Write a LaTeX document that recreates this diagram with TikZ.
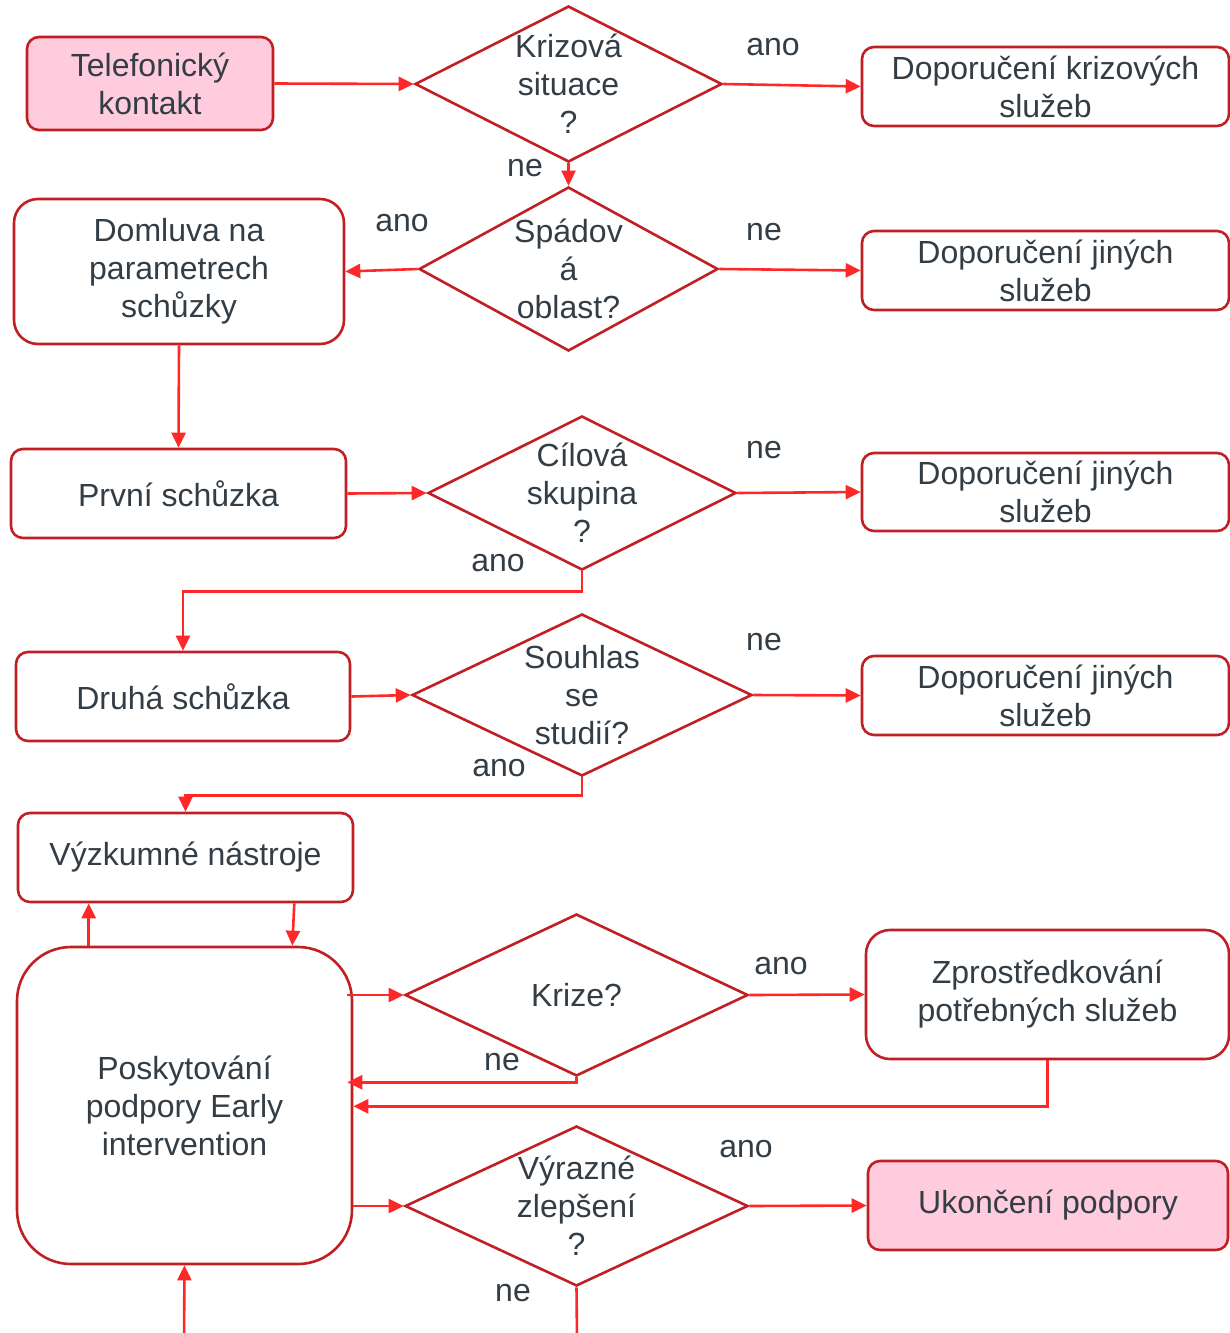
\documentclass[tikz,border=0pt]{standalone}
\usepackage{fontspec}
\setmainfont{Liberation Sans}
\usetikzlibrary{shapes.geometric,arrows.meta,positioning}
\definecolor{frame}{RGB}{192,32,36}
\definecolor{wire}{RGB}{255,40,40}
\definecolor{rose}{RGB}{255,204,221}
\definecolor{ink}{RGB}{51,61,69}
\begin{document}
\begin{tikzpicture}[x=0.5pt,y=-0.5pt,font=\fontsize{16}{19}\selectfont,
  main/.style = {draw=frame, line width=1.3pt, rounded corners=6pt, text=ink, align=center, inner sep=0pt},
  pink/.style = {main, fill=rose},
  choice/.style = {draw=frame, line width=1.3pt, diamond, inner sep=0pt},
  ans/.style = {text=ink, align=center},
  link/.style = {wire, line width=1.3pt, -{Triangle[length=7.5pt,width=7pt]}}]
                  \useasboundingbox (0,0) rectangle (1230,1333);
                  \node[pink, minimum width=123pt, minimum height=46.5pt](tel) at (150,83.5) {Telefonický\\kontakt};
                  \node[choice, minimum width=153.5pt, minimum height=78pt, label={[ans]center:Krizová\\situace\\?}](kriz) at (568.5,84) {};
                  \node[main, minimum width=183.5pt, minimum height=39.5pt](dopkriz) at (1045.5,86.5) {Doporučení krizových\\služeb};
                  \node[choice, minimum width=149.5pt, minimum height=82pt, label={[ans]center:Spádov\\á\\oblast?}](spad) at (568.5,269) {};
                  \node[main, rounded corners=12pt, minimum width=165pt, minimum height=72.5pt](domluva) at (179,271.5) {Domluva na\\parametrech\\schůzky};
                  \node[main, minimum width=183.5pt, minimum height=39.5pt](dopjin1) at (1045.5,270.5) {Doporučení jiných\\služeb};
                  \node[main, minimum width=167.5pt, minimum height=44.5pt](prvni) at (178.5,493.5) {První schůzka};
                  \node[choice, minimum width=154pt, minimum height=77pt, label={[ans]center:Cílová\\skupina\\?}](cil) at (582,493) {};
                  \node[main, minimum width=183.5pt, minimum height=39pt](dopjin2) at (1045.5,492) {Doporučení jiných\\služeb};
                  \node[main, minimum width=167pt, minimum height=44.5pt](druha) at (183,696.5) {Druhá schůzka};
                  \node[choice, minimum width=170pt, minimum height=81pt, label={[ans]center:Souhlas\\se\\studií?}](souhl) at (582,695) {};
                  \node[main, minimum width=183.5pt, minimum height=39.5pt](dopjin3) at (1045.5,695.5) {Doporučení jiných\\služeb};
                  \node[main, minimum width=167.5pt, minimum height=44.5pt](vyzk) at (185.5,857.5) {Výzkumné nástroje};
                  \node[main, rounded corners=27pt, minimum width=167.5pt, minimum height=158.5pt](posk) at (184.5,1105.5) {Poskytování\\podpory Early\\intervention};
                  \node[choice, minimum width=171.5pt, minimum height=81pt, label={[ans]center:Krize?}](krize) at (576.5,995) {};
                  \node[main, rounded corners=12pt, minimum width=181.5pt, minimum height=64.5pt](zprost) at (1047.5,994.5) {Zprostředkování\\potřebných služeb};
                  \node[choice, minimum width=171.5pt, minimum height=80pt, label={[ans]center:Výrazné\\zlepšení\\?}](vyr) at (576.5,1206) {};
                  \node[pink, minimum width=180pt, minimum height=44.5pt](ukon) at (1048,1205.5) {Ukončení podpory};
                  \node[ans](a1) at (773,47) {ano};
                  \node[ans](n1) at (525,168) {ne};
                  \node[ans](a2) at (402,223) {ano};
                  \node[ans](n2) at (764,232) {ne};
                  \node[ans](n3) at (764,450) {ne};
                  \node[ans](a3) at (498,563) {ano};
                  \node[ans](n4) at (764,642) {ne};
                  \node[ans](a4) at (499,768) {ano};
                  \node[ans](a5) at (781,966) {ano};
                  \node[ans](n5) at (502,1062) {ne};
                  \node[ans](a6) at (746,1149) {ano};
                  \node[ans](n6) at (513,1293) {ne};
                  \coordinate (endne) at (577,1340);
                  \coordinate (start) at (184,1340);
                  \coordinate (k1) at (posk.east |- krize.west);
                  \coordinate (v1) at (posk.east |- vyr.west);
                  \draw[link] (tel.east) -- (kriz.west);
                  \draw[link] (kriz.east) -- (dopkriz.west);
                  \draw[link] (kriz.south) -- (spad.north);
                  \draw[link] (spad.west) -- (domluva.east);
                  \draw[link] (spad.east) -- (dopjin1.west);
                  \draw[link] (domluva.south) -- (prvni.north);
                  \draw[link] (prvni.east) -- (cil.west);
                  \draw[link] (cil.east) -- (dopjin2.west);
                  \draw[link] (cil.south) -- ++(0,20) -| (druha.north);
                  \draw[link] (druha.east) -- (souhl.west);
                  \draw[link] (souhl.east) -- (dopjin3.west);
                  \draw[link] (souhl.south) -- ++(0,18) -| (vyzk.north);
                  \draw[link] ([xshift=36.5pt]posk.north west) -- ([xshift=36pt]vyzk.south west);
                  \draw[link] ([xshift=-30pt]vyzk.south east) -- ([xshift=-30.5pt]posk.north east);
                  \draw[link] ([xshift=-3pt]k1) -- (krize.west);
                  \draw[link] (krize.south) -- ++(0,5) coordinate (k2) -- ([xshift=-3pt]k2 -| posk.east);
                  \draw[link] (krize.east) -- (zprost.west);
                  \draw[link] (zprost.south) -- ++(0,46) coordinate (z1) -- (z1 -| posk.east);
                  \draw[link] (v1) -- (vyr.west);
                  \draw[link] (vyr.east) -- (ukon.west);
                  \draw[wire, line width=1.3pt] (vyr.south) -- (endne);
                  \draw[link] (start) -- (posk.south);
          \end{tikzpicture}
\end{document}
